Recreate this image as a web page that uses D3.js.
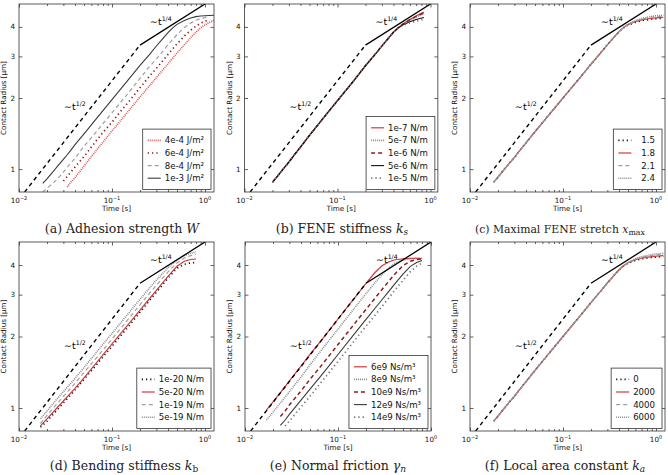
<!DOCTYPE html>
<html><head><meta charset="utf-8">
<script src="https://cdn.jsdelivr.net/npm/d3@7"></script>
<style>body{margin:0;background:#fff}svg{display:block}</style>
</head><body>
<svg id="chart" width="668" height="475"></svg>
<script>
// ---------- reference scaling lines ----------
const refHalfT = [0.0115, 0.2], refHalfR = [0.8, 3.35];
const refQuarterT = [0.2, 1.0], refQuarterR = [3.35, 5.0];

// ---------- axis ticks ----------
const xMajor = [0.01, 0.1, 1];
const xMinor = [0.02,0.03,0.04,0.05,0.06,0.07,0.08,0.09,0.2,0.3,0.4,0.5,0.6,0.7,0.8,0.9];
const yTicks = [1, 2, 3, 4];
const xTickExp = ["\u22122", "\u22121", "0"];

// ---------- (a) adhesion strength ----------
const tA = [0.018,0.02,0.023,0.026,0.03,0.033,0.036,0.04,0.05,0.06,0.07,0.08,0.1,0.12,0.15,0.2,0.25,0.3,0.35,0.4,0.45,0.5,0.6,0.7,0.8,0.9,1.0,1.1,1.25];
const labelsA = ["4e-4 J/m\u00b2","6e-4 J/m\u00b2","8e-4 J/m\u00b2","1e-3 J/m\u00b2"];
const rA4e4 = [null,null,null,null,null,0.84,0.88,0.92,1.03,1.13,1.22,1.30,1.45,1.58,1.76,2.02,2.24,2.44,2.62,2.79,2.95,3.10,3.36,3.60,3.80,3.97,4.08,4.17,4.27];
const rA6e4 = [null,null,null,null,0.89,0.93,0.97,1.02,1.13,1.24,1.34,1.43,1.58,1.73,1.92,2.21,2.46,2.67,2.87,3.06,3.23,3.39,3.66,3.87,4.03,4.15,4.23,4.28,null];
const rA8e4 = [0.80,0.83,0.87,0.91,0.97,1.02,1.06,1.11,1.25,1.36,1.46,1.56,1.73,1.89,2.10,2.42,2.70,2.93,3.14,3.36,3.54,3.71,3.98,4.15,4.27,4.34,4.38,4.40,null];
const rA1e3 = [0.87,0.91,0.97,1.03,1.10,1.15,1.20,1.27,1.41,1.54,1.66,1.77,1.97,2.15,2.39,2.75,3.04,3.32,3.56,3.78,3.96,4.10,4.26,4.36,4.42,4.45,4.46,4.47,4.48];

// ---------- (b) FENE stiffness ----------
const tB = [0.02,0.023,0.026,0.03,0.035,0.04,0.05,0.06,0.08,0.1,0.12,0.15,0.2,0.25,0.3,0.35,0.4,0.45,0.5,0.6,0.7,0.85];
const labelsB = ["1e-7 N/m","5e-7 N/m","1e-6 N/m","5e-6 N/m","1e-5 N/m"];
const rB1e7 = [0.88,0.94,1.00,1.07,1.16,1.24,1.39,1.52,1.75,1.95,2.13,2.37,2.74,3.04,3.32,3.57,3.80,3.97,4.10,4.30,4.45,4.62];
const rB5e7 = [0.88,0.94,1.00,1.07,1.16,1.24,1.39,1.52,1.75,1.95,2.13,2.37,2.74,3.04,3.32,3.57,3.80,3.97,4.09,4.27,4.40,4.55];
const rB1e6 = [0.88,0.94,1.00,1.07,1.16,1.24,1.39,1.52,1.75,1.95,2.13,2.37,2.74,3.04,3.32,3.57,3.80,3.97,4.10,4.29,4.43,4.59];
const rB5e6 = [0.88,0.94,1.00,1.07,1.16,1.24,1.39,1.52,1.75,1.95,2.13,2.37,2.74,3.04,3.32,3.57,3.80,3.96,4.07,4.21,4.30,4.38];
const rB1e5 = [0.88,0.94,1.00,1.07,1.16,1.24,1.39,1.52,1.75,1.95,2.13,2.37,2.74,3.04,3.32,3.57,3.79,3.95,4.05,4.16,4.23,4.30];

// ---------- (c) maximal FENE stretch ----------
const tC = [0.018,0.02,0.023,0.026,0.03,0.035,0.04,0.05,0.06,0.08,0.1,0.12,0.15,0.2,0.25,0.3,0.35,0.4,0.45,0.5,0.6,0.7,0.85,1.0,1.2];
const labelsC = ["1.5","1.8","2.1","2.4"];
const rC15 = [0.88,0.925,0.99,1.05,1.12,1.21,1.29,1.44,1.57,1.80,2.00,2.18,2.42,2.78,3.08,3.36,3.60,3.81,3.97,4.07,4.18,4.25,4.30,4.33,4.35];
const rC18 = [0.88,0.925,0.99,1.05,1.12,1.21,1.29,1.44,1.57,1.80,2.00,2.18,2.42,2.78,3.08,3.36,3.60,3.82,3.98,4.09,4.21,4.28,4.34,4.37,4.39];
const rC21 = [0.88,0.925,0.99,1.05,1.12,1.21,1.29,1.44,1.57,1.80,2.00,2.18,2.42,2.78,3.08,3.36,3.60,3.82,3.98,4.10,4.23,4.31,4.38,4.42,4.44];
const rC24 = [0.88,0.925,0.99,1.05,1.12,1.21,1.29,1.44,1.57,1.80,2.00,2.18,2.42,2.78,3.08,3.36,3.60,3.82,3.98,4.10,4.25,4.34,4.42,4.46,4.48];

// ---------- (d) bending stiffness ----------
const tD = [0.017,0.02,0.025,0.03,0.04,0.05,0.07,0.1,0.15,0.2,0.25,0.3,0.4,0.5,0.6,0.7,0.8];
const labelsD = ["1e-20 N/m","5e-20 N/m","1e-19 N/m","5e-19 N/m"];
const rD1e20 = [0.83,0.88,0.97,1.05,1.19,1.32,1.54,1.82,2.20,2.53,2.82,3.07,3.52,3.88,4.03,4.08,4.10];
const rD5e20 = [0.84,0.90,0.99,1.07,1.21,1.34,1.57,1.86,2.25,2.58,2.87,3.13,3.58,3.95,4.15,4.22,4.24];
const rD1e19 = [0.86,0.93,1.03,1.12,1.27,1.41,1.65,1.95,2.37,2.72,3.02,3.29,3.74,4.08,4.28,4.38,4.44];
const rD5e19 = [0.90,0.97,1.08,1.17,1.33,1.48,1.74,2.06,2.50,2.87,3.18,3.45,3.90,4.20,4.38,4.48,4.55];

// ---------- (e) normal friction ----------
const tE = [0.017,0.02,0.024,0.027,0.03,0.04,0.05,0.07,0.1,0.15,0.2,0.25,0.3,0.35,0.4,0.5,0.6,0.7,0.8];
const labelsE = ["6e9 Ns/m\u00b3","8e9 Ns/m\u00b3","10e9 Ns/m\u00b3","12e9 Ns/m\u00b3","14e9 Ns/m\u00b3"];
const rE6 = [0.98,1.06,1.16,1.23,1.30,1.50,1.68,1.98,2.37,2.90,3.35,3.72,3.98,4.12,4.20,4.25,4.27,4.27,4.26];
const rE8 = [0.89,0.96,1.05,1.11,1.17,1.35,1.52,1.80,2.15,2.63,3.03,3.37,3.66,3.88,4.05,4.20,4.25,4.27,4.27];
const rE10 = [null,null,0.92,0.97,1.03,1.18,1.32,1.55,1.85,2.26,2.60,2.90,3.17,3.41,3.63,3.98,4.15,4.22,4.25];
const rE12 = [null,null,0.845,0.89,0.94,1.08,1.20,1.41,1.68,2.05,2.36,2.63,2.87,3.09,3.30,3.66,3.95,4.10,4.18];
const rE14 = [null,null,null,0.84,0.88,1.01,1.12,1.32,1.57,1.92,2.21,2.46,2.69,2.90,3.10,3.45,3.75,3.95,4.08];

// ---------- (f) local area constant ----------
const tF = [0.018,0.02,0.023,0.026,0.03,0.035,0.04,0.05,0.06,0.08,0.1,0.12,0.15,0.2,0.25,0.3,0.35,0.4,0.45,0.5,0.6,0.7,0.85,1.0,1.2];
const labelsF = ["0","2000","4000","6000"];
const rF0 = [0.88,0.925,0.99,1.05,1.12,1.21,1.29,1.44,1.57,1.80,2.00,2.18,2.42,2.78,3.08,3.36,3.60,3.81,3.97,4.07,4.18,4.25,4.29,4.32,4.34];
const rF2000 = [0.88,0.925,0.99,1.05,1.12,1.21,1.29,1.44,1.57,1.80,2.00,2.18,2.42,2.78,3.08,3.36,3.60,3.82,3.98,4.09,4.21,4.28,4.33,4.36,4.38];
const rF4000 = [0.88,0.925,0.99,1.05,1.12,1.21,1.29,1.44,1.57,1.80,2.00,2.18,2.42,2.78,3.08,3.36,3.60,3.82,3.98,4.10,4.23,4.31,4.37,4.41,4.43];
const rF6000 = [0.88,0.925,0.99,1.05,1.12,1.21,1.29,1.44,1.57,1.80,2.00,2.18,2.42,2.78,3.08,3.36,3.60,3.82,3.98,4.10,4.25,4.34,4.41,4.46,4.48];

// ---------- styles ----------
const S = {
  solidRed:   {c:"#d2393b", w:1.2, d:null},
  solidDark:  {c:"#3a3a3a", w:1.1, d:null},
  solidBlack: {c:"#111",    w:1.1, d:null},
  dashGray:   {c:"#a0a0a0", w:1.2, d:"4,3"},
  dashDarkRed:{c:"#8e1d1d", w:1.5, d:"4,3"},
  dotGray:    {c:"#8c8c8c", w:1.6, d:"1,1"},
  dotRed:     {c:"#e0585a", w:1.7, d:"1,1"},
  ddBlack:    {c:"#111",    w:1.6, d:"1.2,3"},
  ddDarkRed:  {c:"#8e1d1d", w:1.7, d:"1.3,3"},
  ddGray:     {c:"#777",    w:1.7, d:"1.3,3"}
};

const panels = [
  {left:19, top:4, height:188, xmax:1.25, t:tA, capX:122, capW:159, pad:0,
   cap:[["(a) Adhesion strength ",""],["W","i"]],
   series:[[labelsA[0],rA4e4,S.dotRed],[labelsA[1],rA6e4,S.ddDarkRed],[labelsA[2],rA8e4,S.dashGray],[labelsA[3],rA1e3,S.solidDark]]},
  {left:244.5, top:4, height:188, xmax:1.2, t:tB, capX:342, capW:159, pad:0,
   cap:[["(b) FENE stiffness ",""],["k","i"],["s","isub"]],
   series:[[labelsB[0],rB1e7,S.solidRed],[labelsB[1],rB5e7,S.dotGray],[labelsB[2],rB1e6,S.dashDarkRed],[labelsB[3],rB5e6,S.solidBlack],[labelsB[4],rB1e5,S.ddGray]]},
  {left:470, top:4, height:188, xmax:1.25, t:tC, capX:560, capW:170, pad:6,
   cap:[["(c) Maximal FENE stretch ",""],["x","i"],["max","sub"]],
   series:[[labelsC[0],rC15,S.ddBlack],[labelsC[1],rC18,S.solidRed],[labelsC[2],rC21,S.dashGray],[labelsC[3],rC24,S.dotGray]]},
  {left:19, top:242, height:189, xmax:1.25, t:tD, capX:124, capW:162, pad:0,
   cap:[["(d) Bending stiffness ",""],["k","i"],["b","sub"]],
   series:[[labelsD[0],rD1e20,S.ddBlack],[labelsD[1],rD5e20,S.solidRed],[labelsD[2],rD1e19,S.dashGray],[labelsD[3],rD5e19,S.dotGray]]},
  {left:245, top:242, height:189, xmax:1.0, t:tE, capX:338, capW:137, pad:0,
   cap:[["(e) Normal friction ",""],["\u03b3","i"],["n","isub"]],
   series:[[labelsE[0],rE6,S.solidRed],[labelsE[1],rE8,S.dotGray],[labelsE[2],rE10,S.dashDarkRed],[labelsE[3],rE12,S.solidDark],[labelsE[4],rE14,S.ddGray]]},
  {left:470, top:242, height:189, xmax:1.25, t:tF, capX:565, capW:164, pad:0,
   cap:[["(f) Local area constant ",""],["k","i"],["a","isub"]],
   series:[[labelsF[0],rF0,S.ddBlack],[labelsF[1],rF2000,S.solidRed],[labelsF[2],rF4000,S.dashGray],[labelsF[3],rF6000,S.dotGray]]}
];

const svg = d3.select("#chart");
const SANS = "'DejaVu Sans', sans-serif";
const PX_PER_DECADE = 93;
const LEG_FS = 8.6;

function applyStyle(sel, st){
  sel.attr("fill","none").attr("stroke",st.c).attr("stroke-width",st.w);
  if(st.d) sel.attr("stroke-dasharray",st.d);
  return sel;
}

panels.forEach((p,pi)=>{
  const width = PX_PER_DECADE*Math.log10(p.xmax/0.01);
  const x = d3.scaleLog().domain([0.01,p.xmax]).range([p.left,p.left+width]);
  const y = d3.scaleLog().domain([0.8,5]).range([p.top+p.height,p.top]);
  const bottom = p.top+p.height, right = p.left+width;
  const g = svg.append("g");

  const clipId = "clip"+pi;
  g.append("clipPath").attr("id",clipId).append("rect")
    .attr("x",p.left).attr("y",p.top).attr("width",width).attr("height",p.height);
  const plot = g.append("g").attr("clip-path",`url(#${clipId})`);

  // data series
  p.series.forEach(([lab, r, st])=>{
    const pts = p.t.map((tv,i)=>[tv,r[i]]);
    const line = d3.line().defined(d=>d[1]!=null).x(d=>x(d[0])).y(d=>y(d[1]));
    applyStyle(plot.append("path").attr("d",line(pts)), st);
  });

  // reference lines
  const refLine = d3.line().x(d=>x(d[0])).y(d=>y(d[1]));
  plot.append("path").attr("d",refLine(refHalfT.map((v,i)=>[v,refHalfR[i]])))
    .attr("fill","none").attr("stroke","#000").attr("stroke-width",1.4).attr("stroke-dasharray","4,3.5");
  plot.append("path").attr("d",refLine(refQuarterT.map((v,i)=>[v,refQuarterR[i]])))
    .attr("fill","none").attr("stroke","#000").attr("stroke-width",1.3);

  // annotations
  const ann1 = g.append("text").attr("x",x(0.0305)).attr("y",y(1.78))
    .style("font-family",SANS).style("font-size","9.5px").attr("fill","#000");
  ann1.append("tspan").text("\u223ct");
  ann1.append("tspan").attr("dy",-4).style("font-size","6.2px").text("1/2");
  const ann2 = g.append("text").attr("x",x(0.256)).attr("y",y(4.07))
    .style("font-family",SANS).style("font-size","9.5px").attr("fill","#000");
  ann2.append("tspan").text("\u223ct");
  ann2.append("tspan").attr("dy",-4).style("font-size","6.2px").text("1/4");

  // axes (ticks pointing inward, on all four sides)
  const mk = (axis, tx, ty, vals, size)=>{
    const a = g.append("g").attr("transform",`translate(${tx},${ty})`)
      .call(axis.tickValues(vals).tickSizeInner(-size).tickSizeOuter(0).tickFormat(()=>""));
    a.select(".domain").remove();
    a.selectAll("line").attr("stroke","#222").attr("stroke-width",0.7);
  };
  mk(d3.axisBottom(x),0,bottom,xMajor,3.5);
  mk(d3.axisBottom(x),0,bottom,xMinor,2);
  mk(d3.axisTop(x),0,p.top,xMajor,3.5);
  mk(d3.axisTop(x),0,p.top,xMinor,2);
  mk(d3.axisLeft(y),p.left,0,yTicks,3.5);
  mk(d3.axisRight(y),right,0,yTicks,3.5);

  // frame
  g.append("rect").attr("x",p.left).attr("y",p.top).attr("width",width).attr("height",p.height)
    .attr("fill","none").attr("stroke","#333").attr("stroke-width",0.8);

  // x tick labels
  xMajor.forEach((v,i)=>{
    const t = g.append("text").attr("x",x(v)).attr("y",bottom+10.5).attr("text-anchor","middle")
      .style("font-family",SANS).style("font-size","7.2px").attr("fill","#111");
    t.append("tspan").text("10");
    t.append("tspan").attr("dy",-3).style("font-size","5px").text(xTickExp[i]);
  });
  // y tick labels
  yTicks.forEach(v=>{
    g.append("text").attr("x",p.left-4).attr("y",y(v)+2.6).attr("text-anchor","end")
      .style("font-family",SANS).style("font-size","7.2px").attr("fill","#111").text(v);
  });
  // axis labels
  g.append("text").attr("x",(p.left+right)/2).attr("y",bottom+19).attr("text-anchor","middle")
    .style("font-family",SANS).style("font-size","7.2px").attr("fill","#111").text("Time [s]");
  g.append("text").attr("transform",`translate(${p.left-13},${p.top+p.height/2}) rotate(-90)`)
    .attr("text-anchor","middle").style("font-family",SANS).style("font-size","7.2px").attr("fill","#111")
    .text("Contact Radius [\u03bcm]");

  // legend
  const n = p.series.length, rowH = 12.6;
  const lg = g.append("g");
  const texts = [];
  const tmp = lg.append("g");
  p.series.forEach(([lab])=>{
    texts.push(tmp.append("text").style("font-family",SANS).style("font-size",LEG_FS+"px").text(lab).node().getComputedTextLength());
  });
  tmp.remove();
  const boxW = 22 + p.pad + d3.max(texts) + 7, boxH = rowH*n + 10;
  const bx = right - 3 - boxW, by = bottom - 2.5 - boxH;
  lg.append("rect").attr("x",bx).attr("y",by).attr("width",boxW).attr("height",boxH)
    .attr("fill","#fff").attr("stroke","#333").attr("stroke-width",0.8);
  p.series.forEach(([lab, r, st],i)=>{
    const cy = by + 5 + rowH*(i+0.5);
    applyStyle(lg.append("line").attr("x1",bx+5).attr("x2",bx+18).attr("y1",cy).attr("y2",cy), st);
    lg.append("text").attr("x",bx+22+p.pad).attr("y",cy+3)
      .style("font-family",SANS).style("font-size",LEG_FS+"px").attr("fill","#111").text(lab);
  });

  // caption (serif, font size fitted to the caption's width)
  const capY = p.top < 100 ? 232.5 : 469.5;
  const ct = g.append("text").attr("x",p.capX).attr("y",capY).attr("text-anchor","middle")
    .style("font-family","'DejaVu Serif', serif").style("font-size","12px").attr("fill","#222");
  p.cap.forEach(([s,k])=>{
    const ts = ct.append("tspan").text(s);
    if(k.includes("i")) ts.style("font-style","italic");
    if(k.includes("sub")) ts.attr("dy",2.5).style("font-size","0.72em");
  });
  const w = ct.node().getComputedTextLength();
  ct.style("font-size",Math.min(12.5, 12*p.capW/w)+"px");
});
</script>
</body></html>
